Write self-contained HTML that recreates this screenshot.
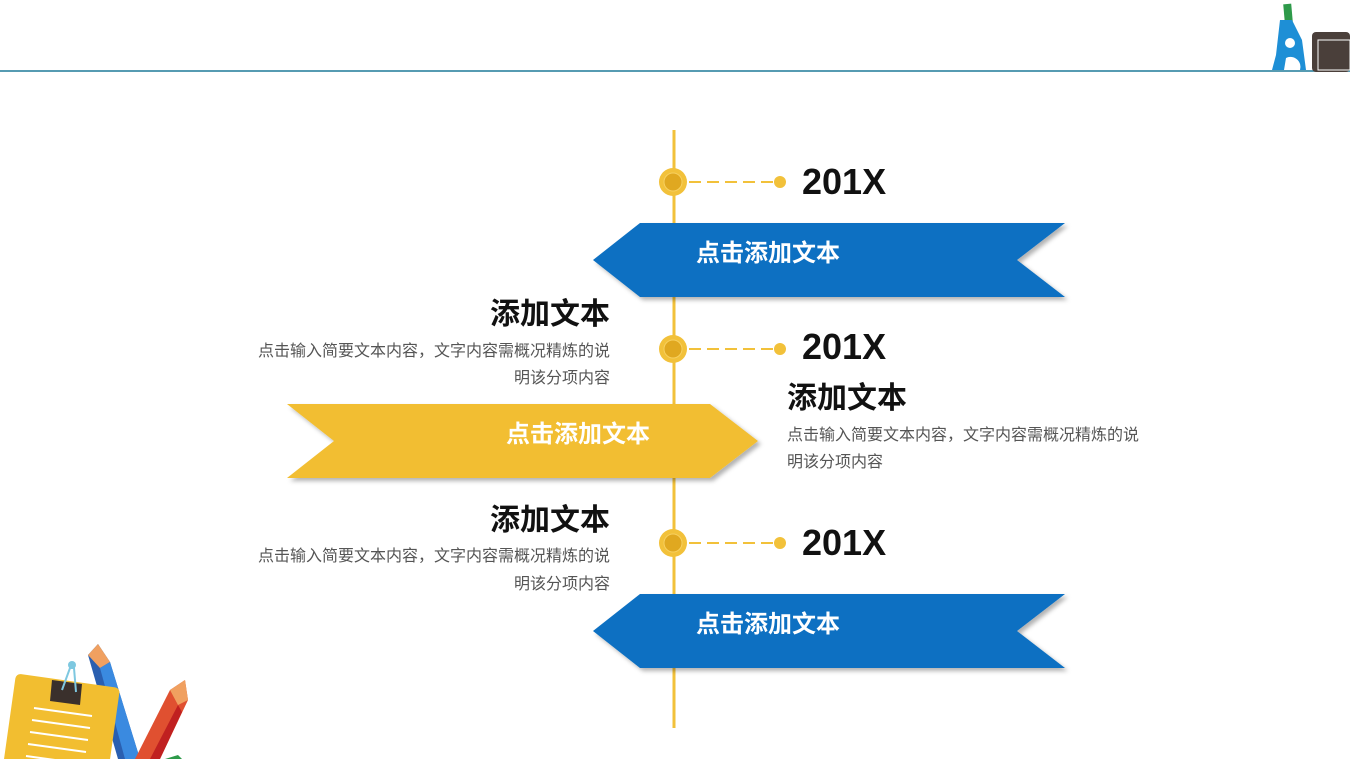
<!DOCTYPE html>
<html><head><meta charset="utf-8"><style>
body{margin:0;width:1350px;height:759px;overflow:hidden;background:#fff;font-family:"Liberation Sans","Noto Sans CJK SC",sans-serif;}
svg{position:absolute;left:0;top:0}
</style></head><body>
<svg width="1350" height="759" viewBox="0 0 1350 759" xmlns="http://www.w3.org/2000/svg" font-family="Liberation Sans, Noto Sans CJK SC, sans-serif">
<defs><filter id="sh" x="-5%" y="-10%" width="115%" height="130%"><feDropShadow dx="3" dy="3" stdDeviation="2" flood-color="#000" flood-opacity="0.3"/></filter></defs>
<line x1="0" y1="71" x2="1350" y2="71" stroke="#1f7a99" stroke-width="1.5"/>
<rect x="1312" y="32" width="38" height="40" rx="4" fill="#4a3f3a"/>
<path d="M1318 40 L1350 40 L1350 70 L1318 70 Z" fill="none" stroke="#fff" stroke-width="1"/>
<rect x="1284" y="4" width="8" height="18" fill="#2e9a4a" transform="rotate(-5 1288 13)"/>
<path d="M1280 20 L1292 20 L1302 40 L1306 70 L1272 70 L1276 55 Z" fill="#1e8fd6"/>
<circle cx="1290" cy="43" r="5" fill="#fff"/>
<path d="M1286 58 a10 10 0 0 1 14 12 h-16z" fill="#fff"/>
<line x1="674" y1="130" x2="674" y2="728" stroke="#f2c13a" stroke-width="3"/>
<g>
<polygon points="593,260 640,223 1065,223 1017,260 1065,297 640,297" fill="#0a70c2" filter="url(#sh)"/>
<polygon points="287,404 710,404 758,441 710,478 287,478 334,441" fill="#f2be30" filter="url(#sh)"/>
<polygon points="593,631 640,594 1065,594 1017,631 1065,668 640,668" fill="#0a70c2" filter="url(#sh)"/>
</g>
<g font-weight="bold" fill="#fff" font-size="24" text-anchor="middle">
<text x="768" y="261">点击添加文本</text>
<text x="578" y="442">点击添加文本</text>
<text x="768" y="632">点击添加文本</text>
</g>
<g>
<g id="n1">
<circle cx="673" cy="182" r="14" fill="#f2c13a"/><circle cx="673" cy="182" r="9" fill="#e0a820" stroke="#f7d060" stroke-width="1"/>
<line x1="689" y1="182" x2="774" y2="182" stroke="#f2c13a" stroke-width="2" stroke-dasharray="12,6"/>
<circle cx="780" cy="182" r="6" fill="#f2c13a"/>
</g>
<use href="#n1" y="167"/><use href="#n1" y="361"/>
</g>
<g font-weight="bold" fill="#111" font-size="36">
<text x="802" y="194">201X</text><text x="802" y="359">201X</text><text x="802" y="555">201X</text>
</g>
<g font-weight="bold" fill="#111" font-size="30">
<text x="610" y="324" text-anchor="end">添加文本</text>
<text x="787" y="408">添加文本</text>
<text x="610" y="530" text-anchor="end">添加文本</text>
</g>
<g fill="#555" font-size="16">
<text x="610" y="356" text-anchor="end">点击输入简要文本内容，文字内容需概况精炼的说</text>
<text x="610" y="383" text-anchor="end">明该分项内容</text>
<text x="787" y="440">点击输入简要文本内容，文字内容需概况精炼的说</text>
<text x="787" y="467">明该分项内容</text>
<text x="610" y="561" text-anchor="end">点击输入简要文本内容，文字内容需概况精炼的说</text>
<text x="610" y="589" text-anchor="end">明该分项内容</text>
</g>
<polygon points="88,655 98,644 110,662 140,759 118,759" fill="#2a5fb0"/>
<polygon points="88,655 98,644 110,662 100,668" fill="#f0a060"/>
<polygon points="100,668 110,662 140,759 125,759" fill="#3a8ae0"/>
<polygon points="185,680 188,700 160,759 135,759 170,690" fill="#e05030"/>
<polygon points="170,690 185,680 188,700 178,705" fill="#f0a060"/>
<polygon points="150,759 178,705 182,712 160,759" fill="#c02020"/>
<rect x="10" y="680" width="105" height="95" rx="5" fill="#f2be30" transform="rotate(8 60 720)"/>
<g stroke="#fff" stroke-width="2">
<line x1="34" y1="708" x2="92" y2="716"/><line x1="32" y1="720" x2="90" y2="728"/><line x1="30" y1="732" x2="88" y2="740"/><line x1="28" y1="744" x2="86" y2="752"/><line x1="26" y1="756" x2="84" y2="764"/>
</g>
<polygon points="52,680 82,684 80,705 50,701" fill="#3a302c"/>
<path d="M62 690 L70 668 L74 668 L76 692" fill="none" stroke="#7ec8e0" stroke-width="2"/>
<circle cx="72" cy="665" r="4" fill="#7ec8e0"/>
<polygon points="165,759 178,755 182,759" fill="#2e9a4a"/>
</svg>
</body></html>
